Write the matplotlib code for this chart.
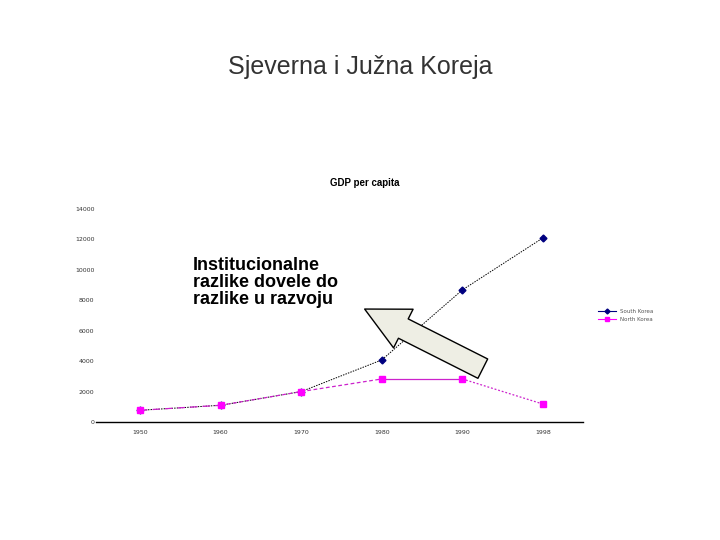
import matplotlib.pyplot as plt
from matplotlib.patches import FancyArrowPatch

years = ['1950', '1960', '1970', '1980', '1990', '1998']
south_korea = [770, 1100, 2000, 4080, 8680, 12100]
north_korea = [770, 1100, 2000, 2830, 2830, 1180]
yticks = [0, 2000, 4000, 6000, 8000, 10000, 12000, 14000]
# dash pattern of each North Korea segment as seen in the original
nk_styles = [(0, (6, 4)), (0, (3, 2)), (0, (3, 2)), '-', (0, (1.5, 1.5))]

fig = plt.figure(figsize=(7.2, 5.4), dpi=100)
fig.text(0.5, 0.876, 'Sjeverna i Južna Koreja', ha='center', va='center',
         fontsize=18, color='#333333', family='Liberation Sans')

ax = fig.add_axes([0.133, 0.2185, 0.677, 0.3945])
x = list(range(len(years)))
ax.plot(x, south_korea, color='black', lw=0.7, ls=(0, (1.5, 1.2)))
ax.plot(x, south_korea, color='#000080', lw=0, marker='D', ms=3.5)
for i, st in enumerate(nk_styles):
    ax.plot(x[i:i + 2], north_korea[i:i + 2], color='#cc22cc', lw=0.9, ls=st)
ax.plot(x, north_korea, color='#ff00ff', lw=0, marker='s', ms=5)

# legend proxies
ax.plot([], [], color='#000080', lw=0.8, marker='D', ms=2.5, label='South Korea')
ax.plot([], [], color='#ff00ff', lw=0.8, marker='s', ms=2.5, label='North Korea')

ax.set_xlim(-0.55, 5.5)
ax.set_ylim(0, 14000)
ax.set_xticks(x)
ax.set_xticklabels(years)
ax.set_yticks(yticks)
ax.tick_params(length=0, labelsize=4.5, colors='#333333')
ax.tick_params(axis='x', pad=6)
ax.tick_params(axis='y', pad=1)
for s in ['top', 'right', 'left']:
    ax.spines[s].set_visible(False)
ax.spines['bottom'].set_linewidth(1.0)

fig.text(0.507, 0.661, 'GDP per capita', ha='center', va='center',
         fontsize=7, fontweight='bold', family='Liberation Sans')

ax.legend(loc='center left', bbox_to_anchor=(1.02, 0.5), frameon=False,
          fontsize=4, handlelength=3.2, labelcolor='#555555', borderaxespad=0.5)

fig.text(0.268, 0.437, 'Institucionalne\nrazlike dovele do\nrazlike u razvoju',
         ha='left', va='baseline', fontsize=13, fontweight='bold',
         family='Liberation Sans', linespacing=1.0)

arrow = FancyArrowPatch((0.674, 0.315), (0.503, 0.430), transform=fig.transFigure,
                        arrowstyle='simple,head_length=2.6,head_width=2.6,tail_width=1.3',
                        mutation_scale=12, facecolor='#eeeee4', edgecolor='black', lw=1)
fig.patches.append(arrow)

fig.savefig('out.png', dpi=100)
